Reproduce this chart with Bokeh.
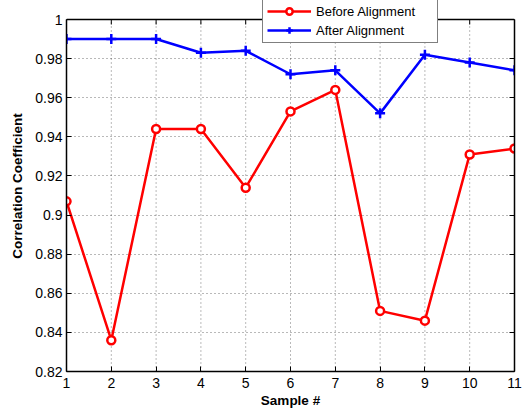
from bokeh.plotting import figure
from bokeh.models import Range1d, FixedTicker, LinearAxis, Legend, LegendItem
from bokeh.embed import file_html
from bokeh.resources import INLINE

samples = [1, 2, 3, 4, 5, 6, 7, 8, 9, 10, 11]
before_alignment = [0.907, 0.836, 0.944, 0.944, 0.914, 0.953, 0.964, 0.851, 0.846, 0.931, 0.934]
after_alignment = [0.990, 0.990, 0.990, 0.983, 0.984, 0.972, 0.974, 0.952, 0.982, 0.978, 0.974]

y_ticks = [0.82, 0.84, 0.86, 0.88, 0.9, 0.92, 0.94, 0.96, 0.98, 1.0]
y_tick_labels = ["0.82", "0.84", "0.86", "0.88", "0.9", "0.92", "0.94", "0.96", "0.98", "1"]
x_ticks = [1, 2, 3, 4, 5, 6, 7, 8, 9, 10, 11]

FONT = "Liberation Sans"

# plot box: y 0.82 .. 1.0; the frame reaches 19px higher so the legend can straddle the top border
W, H = 532, 414
TOP_PAD, BOTTOM = 19, 43
box_px = H - TOP_PAD - BOTTOM
y_lo, y_hi = y_ticks[0], y_ticks[-1]
px = (y_hi - y_lo) / box_px
y_end = y_hi + TOP_PAD * px

p = figure(width=W, height=H, output_backend="svg", toolbar_location=None,
           x_range=Range1d(1, 11), y_range=Range1d(y_lo, y_end),
           min_border_left=66, min_border_right=18, min_border_top=0, min_border_bottom=BOTTOM)
p.background_fill_color = "white"
p.border_fill_color = "white"
p.outline_line_color = None

# main axes
p.xaxis.ticker = FixedTicker(ticks=x_ticks)
p.yaxis.ticker = FixedTicker(ticks=y_ticks)
p.yaxis.bounds = (y_lo, y_hi)
p.yaxis.major_label_overrides = {t: s for t, s in zip(y_ticks, y_tick_labels)}
for ax in (p.xaxis[0], p.yaxis[0]):
    ax.axis_line_color = "black"
    ax.axis_line_width = 1.5
    ax.major_tick_in = 5
    ax.major_tick_out = 0
    ax.major_tick_line_color = "black"
    ax.major_tick_line_width = 1
    ax.minor_tick_line_color = None
    ax.major_label_text_font = FONT
    ax.major_label_text_font_size = "14px"
    ax.major_label_text_color = "black"
    ax.axis_label_text_font = FONT
    ax.axis_label_text_font_size = "13.5px"
    ax.axis_label_text_font_style = "bold"
    ax.axis_label_text_color = "black"
p.xaxis.axis_label = "Sample #"
p.yaxis.axis_label = "Correlation Coefficient"
p.xaxis.major_label_standoff = 6
p.xaxis.axis_label_standoff = 2
p.yaxis.major_label_standoff = 4
p.yaxis.axis_label_standoff = 7

# right box edge with inward ticks
right_ax = LinearAxis(ticker=FixedTicker(ticks=y_ticks), bounds=(y_lo, y_hi))
right_ax.axis_line_color = "black"
right_ax.axis_line_width = 1.5
right_ax.major_tick_in = 5
right_ax.major_tick_out = 0
right_ax.major_tick_line_color = "black"
right_ax.minor_tick_line_color = None
right_ax.major_label_text_font_size = "0px"
right_ax.major_label_standoff = 0
right_ax.major_label_text_color = None
p.add_layout(right_ax, "right")

# grid: horizontal via grid, vertical via dotted segments limited to the box
p.xgrid.visible = False
p.ygrid.ticker = FixedTicker(ticks=y_ticks)
p.ygrid.grid_line_color = "black"
p.ygrid.grid_line_alpha = 0.55
p.ygrid.grid_line_dash = "1 3"
p.ygrid.grid_line_width = 1
inner_x = x_ticks[1:-1]
p.segment(x0=inner_x, y0=[y_lo] * len(inner_x), x1=inner_x, y1=[y_hi] * len(inner_x),
          line_color="black", line_alpha=0.55, line_dash="1 3", line_width=1)

# top box edge with inward ticks
p.segment(x0=[x_ticks[0]], y0=[y_hi], x1=[x_ticks[-1]], y1=[y_hi],
          line_color="black", line_width=1.5)
p.segment(x0=x_ticks, y0=[y_hi] * len(x_ticks), x1=x_ticks, y1=[y_hi - 5 * px] * len(x_ticks),
          line_color="black", line_width=1)

# data
r_line = p.line(samples, before_alignment, line_color="red", line_width=2.5)
r_mark = p.scatter(samples, before_alignment, marker="circle", size=8,
                   line_color="red", line_width=2.5, fill_color="white")
b_line = p.line(samples, after_alignment, line_color="blue", line_width=2.5)
b_mark = p.scatter(samples, after_alignment, marker="cross", size=10,
                   line_color="blue", line_width=2.5)

legend = Legend(items=[
    LegendItem(label="Before Alignment", renderers=[r_line, r_mark]),
    LegendItem(label="After Alignment", renderers=[b_line, b_mark]),
], location=(196, box_px - 43 + TOP_PAD))
legend.label_text_font = FONT
legend.label_text_font_size = "13px"
legend.label_text_color = "black"
legend.glyph_width = 44
legend.glyph_height = 16
legend.label_height = 16
legend.label_width = 117
legend.label_standoff = 5
legend.padding = 4
legend.spacing = 3
legend.margin = 0
legend.border_line_color = "black"
legend.border_line_width = 1
legend.background_fill_color = "white"
legend.background_fill_alpha = 1.0
p.add_layout(legend, "center")

open("out.html", "w").write(file_html(p, INLINE))
